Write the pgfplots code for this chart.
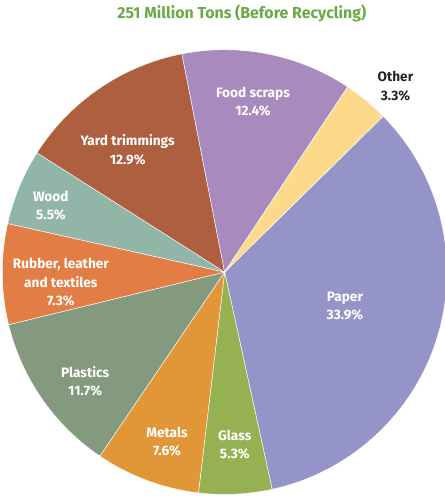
\documentclass[border=0pt]{standalone}
\usepackage{pgfplots}
\pgfplotsset{compat=1.18}
\usepackage{fontspec}
\setmainfont{Fira Sans}

\definecolor{cPaper}{HTML}{9594C8}
\definecolor{cGlass}{HTML}{96B152}
\definecolor{cMetals}{HTML}{E19738}
\definecolor{cPlastics}{HTML}{849A7E}
\definecolor{cRubber}{HTML}{E27E45}
\definecolor{cWood}{HTML}{91B5A6}
\definecolor{cYard}{HTML}{AD5F40}
\definecolor{cFood}{HTML}{A98ABF}
\definecolor{cOther}{HTML}{FDD98B}
\definecolor{cTitle}{HTML}{6AAA45}

\begin{document}
\begin{tikzpicture}[
    lbl/.style={font=\bfseries\fontsize{9.6}{12.8}\selectfont, text=white, align=center},
]
\begin{axis}[
    x=1cm, y=1cm,
    xmin=-5.7, xmax=5.45, ymin=-5.55, ymax=6.85,
    hide axis, clip=true,
]
% shares in percent, clockwise from the Paper/Other edge
\def\startangle{44.5}
\pgfmathsetmacro\k{360/99.9}
\foreach \v/\c in {33.9/cPaper, 5.3/cGlass, 7.6/cMetals, 11.7/cPlastics,
                   7.3/cRubber, 5.5/cWood, 12.9/cYard, 12.4/cFood, 3.3/cOther} {
    \pgfmathsetmacro\endangle{\startangle-\k*\v}
    \edef\temp{\noexpand\fill[\c, draw=white, line width=0.3pt]
        (axis cs:0,0) -- ++(\startangle:5.5cm)
        arc[start angle=\startangle, end angle=\endangle, radius=5.5cm] -- cycle;}
    \temp
    \global\let\startangle\endangle
}

\node[font=\bfseries\fontsize{11.2}{13}\selectfont, text=cTitle] at (axis cs:0.425,6.4) {251 Million Tons (Before Recycling)};
\node[lbl] at (axis cs:0.7,4.225) {Food scraps\\12.4\%};
\node[lbl, text=black!85] at (axis cs:4.225,4.6) {Other\\3.3\%};
\node[lbl] at (axis cs:-2.4,3.025) {Yard trimmings\\12.9\%};
\node[lbl] at (axis cs:-4.3,1.65) {Wood\\5.5\%};
\node[lbl] at (axis cs:-4.05,-0.25) {Rubber, leather\\and textiles\\7.3\%};
\node[lbl] at (axis cs:-3.45,-2.7) {Plastics\\11.7\%};
\node[lbl] at (axis cs:-1.425,-4.2) {Metals\\7.6\%};
\node[lbl] at (axis cs:0.25,-4.275) {Glass\\5.3\%};
\node[lbl] at (axis cs:2.975,-0.85) {Paper\\33.9\%};
\end{axis}
\end{tikzpicture}
\end{document}
